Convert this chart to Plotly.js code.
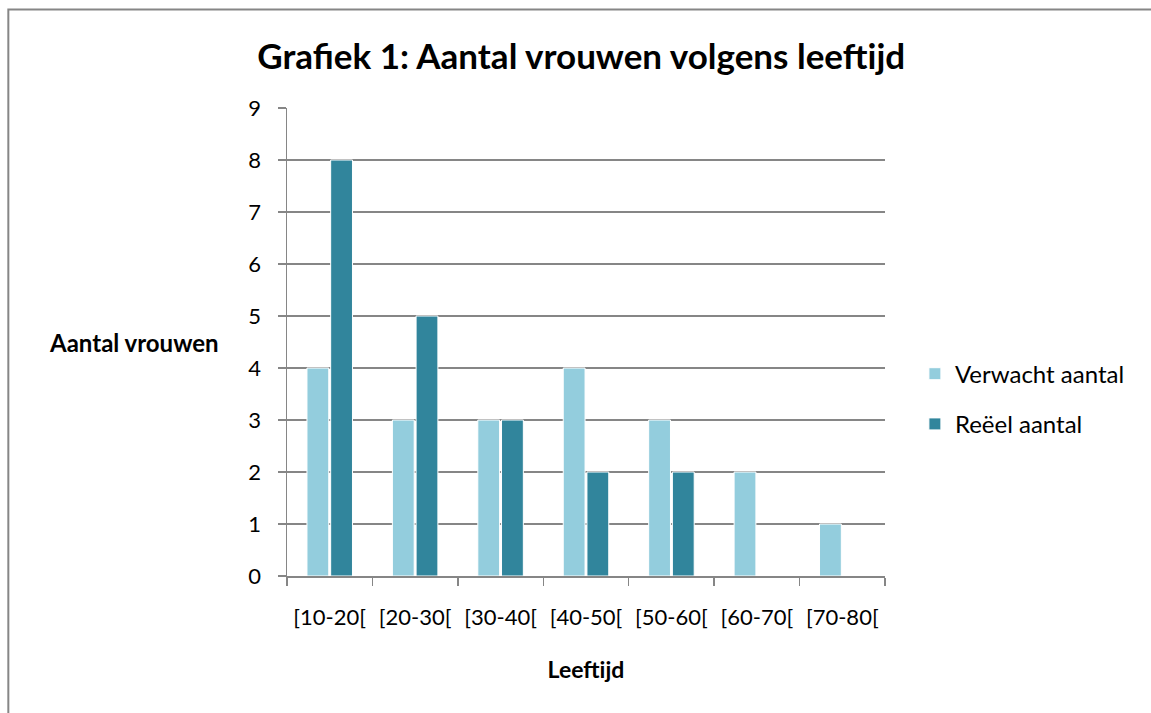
<!DOCTYPE html>
<html>
<head>
<meta charset="utf-8">
<script src="https://cdn.plot.ly/plotly-3.0.1.min.js"></script>
<style>
html,body{margin:0;padding:0;background:#fff;overflow:hidden;}
#chart{width:1151px;height:713px;}
</style>
</head>
<body>
<div id="chart"></div>
<script>
const categories = ["[10-20[", "[20-30[", "[30-40[", "[40-50[", "[50-60[", "[60-70[", "[70-80["];
const verwacht = [4, 3, 3, 4, 3, 2, 1];
const reeel = [8, 5, 3, 2, 2, 0, 0];
const seriesNames = ["Verwacht aantal", "Reëel aantal"];
const yTicks = [0, 1, 2, 3, 4, 5, 6, 7, 8, 9];

const FONT = "Lato, 'Open Sans', sans-serif";
const GRID = "#868686";

const traces = [
  {type: "bar", name: seriesNames[0], x: categories, y: verwacht,
   marker: {color: "#93CDDD", line: {color: "#ffffff", width: 1}}, legendgroup: "a"},
  {type: "bar", name: seriesNames[1], x: categories, y: reeel,
   marker: {color: "#31859C", line: {color: "#ffffff", width: 1}}, legendgroup: "b"}
];

const layout = {
  width: 1151, height: 713,
  margin: {l: 287, r: 266, t: 108, b: 137, pad: 0},
  paper_bgcolor: "#fff", plot_bgcolor: "#fff",
  font: {family: FONT, color: "#000", size: 22},
  title: {text: "<b>Grafiek 1: Aantal vrouwen volgens leeftijd</b>", font: {family: FONT, size: 35, color: "#000"},
          x: 0.505, xref: "container", xanchor: "center", y: 0.92, yref: "container", yanchor: "middle"},
  barmode: "group", bargap: 0.445, bargroupgap: 0.08,
  showlegend: true,
  legend: {x: 1.05, xanchor: "left", y: 0.378, yanchor: "middle", font: {family: FONT, size: 24, color: "#000"},
           traceorder: "grouped", tracegroupgap: 16, bgcolor: "rgba(0,0,0,0)", itemclick: false},
  xaxis: {type: "category", showgrid: false, showline: true, linecolor: GRID, linewidth: 1.5,
          ticks: "outside", tickson: "boundaries", ticklen: 8, tickcolor: GRID, tickwidth: 1.5,
          tickangle: 0, ticklabelstandoff: 21, tickfont: {family: FONT, size: 22, color: "#000"},
          title: {text: "<b>Leeftijd</b>", font: {family: FONT, size: 23, color: "#000"}, standoff: 33},
          fixedrange: true},
  yaxis: {range: [0, 9], tickvals: yTicks, showgrid: true, gridcolor: GRID, gridwidth: 1.5,
          showline: true, linecolor: GRID, linewidth: 1.5, zeroline: false,
          ticks: "outside", ticklen: 8, tickcolor: GRID, tickwidth: 1.5,
          ticklabelstandoff: 12, tickfont: {family: FONT, size: 22, color: "#000"}, fixedrange: true},
  annotations: [
    {text: "<b>Aantal vrouwen</b>", xref: "paper", yref: "paper", x: -0.11, y: 0.5, xanchor: "right", yanchor: "middle",
     showarrow: false, font: {family: FONT, size: 24, color: "#000"}}
  ],
  shapes: [
    {type: "rect", xref: "paper", yref: "paper", x0: -0.466, x1: 2, y0: -2, y1: 1.2105,
     line: {color: "#868686", width: 2}, fillcolor: "rgba(0,0,0,0)", layer: "below"}
  ]
};

Plotly.newPlot("chart", traces, layout, {displayModeBar: false, staticPlot: true});
</script>
</body>
</html>
